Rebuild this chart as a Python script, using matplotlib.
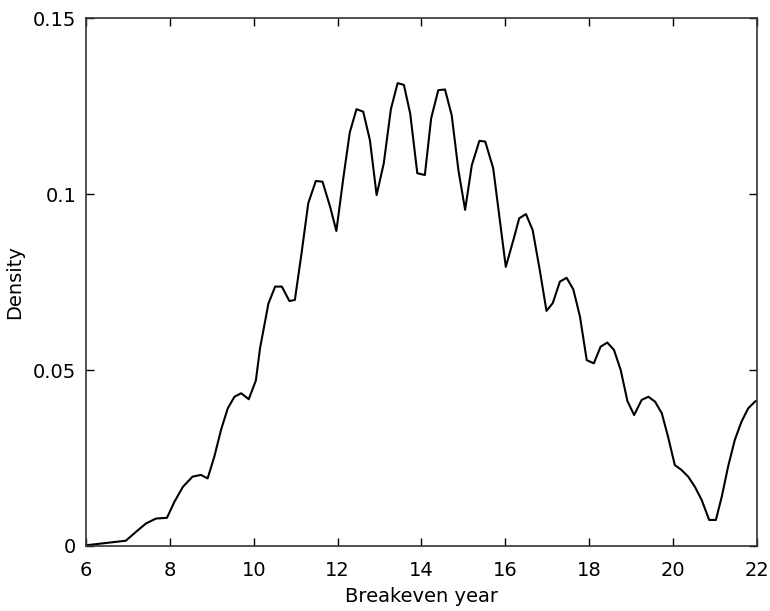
import matplotlib
matplotlib.use("Agg")
import matplotlib.pyplot as plt

plt.rcParams['font.family'] = ['DejaVu Sans']

# Kernel density of breakeven year
years = [6.00, 6.95, 7.19, 7.43, 7.67, 7.93, 8.11, 8.31, 8.54, 8.74, 8.90,
         9.06, 9.22, 9.38, 9.54, 9.70, 9.88, 10.05, 10.15, 10.35, 10.51,
         10.67, 10.85, 10.98, 11.14, 11.30, 11.48, 11.64, 11.82, 11.97,
         12.14, 12.29, 12.45, 12.61, 12.77, 12.93, 13.10, 13.27, 13.43,
         13.58, 13.73, 13.90, 14.08, 14.23, 14.40, 14.56, 14.72, 14.88,
         15.04, 15.20, 15.38, 15.52, 15.71, 16.01, 16.19, 16.33, 16.49,
         16.65, 16.82, 16.98, 17.13, 17.30, 17.46, 17.62, 17.78, 17.94,
         18.11, 18.27, 18.43, 18.59, 18.75, 18.91, 19.07, 19.25, 19.41,
         19.57, 19.73, 19.88, 20.04, 20.20, 20.36, 20.52, 20.68, 20.86,
         21.02, 21.16, 21.31, 21.47, 21.63, 21.79, 21.95, 22.00]
density = [0.0002, 0.0015, 0.0040, 0.0064, 0.0078, 0.0080, 0.0126, 0.0168,
           0.0197, 0.0202, 0.0192, 0.0254, 0.0330, 0.0391, 0.0424, 0.0434,
           0.0417, 0.0470, 0.0562, 0.0689, 0.0737, 0.0737, 0.0696, 0.0699,
           0.0832, 0.0974, 0.1037, 0.1035, 0.0964, 0.0895, 0.1049, 0.1175,
           0.1241, 0.1234, 0.1153, 0.0997, 0.1087, 0.1241, 0.1315, 0.1310,
           0.1229, 0.1059, 0.1054, 0.1215, 0.1295, 0.1297, 0.1224, 0.1068,
           0.0955, 0.1082, 0.1151, 0.1149, 0.1073, 0.0793, 0.0869, 0.0931,
           0.0943, 0.0898, 0.0784, 0.0668, 0.0690, 0.0751, 0.0762, 0.0729,
           0.0651, 0.0528, 0.0519, 0.0566, 0.0578, 0.0557, 0.0500, 0.0412,
           0.0372, 0.0415, 0.0424, 0.0410, 0.0377, 0.0310, 0.0230, 0.0216,
           0.0197, 0.0168, 0.0131, 0.0074, 0.0074, 0.0140, 0.0225, 0.0301,
           0.0353, 0.0391, 0.0410, 0.0413]

xticks = [6, 8, 10, 12, 14, 16, 18, 20, 22]
yticks = [0, 0.05, 0.1, 0.15]
ytick_labels = ['0', '0.05', '0.1', '0.15']

fig = plt.figure(figsize=(7.7, 6.11), dpi=100)
ax = fig.add_axes([0.1117, 0.1064, 0.8714, 0.8641])
ax.plot(years, density, color='black', linewidth=1.5)

ax.set_xlim(6, 22)
ax.set_ylim(0, 0.15)
ax.set_xticks(xticks)
ax.set_xticklabels([str(t) for t in xticks])
ax.set_yticks(yticks)
ax.set_yticklabels(ytick_labels)
ax.tick_params(direction='in', length=6, width=1, top=True, right=True,
               labelsize=14, colors='black')
ax.tick_params(axis='x', pad=11)
ax.tick_params(axis='y', pad=7)
for s in ax.spines.values():
    s.set_linewidth(1.2)
    s.set_color('#333333')
ax.set_xlabel('Breakeven year', fontsize=14, labelpad=5)
ax.set_ylabel('Density', fontsize=14, labelpad=6)

fig.savefig('out.png', dpi=100)
